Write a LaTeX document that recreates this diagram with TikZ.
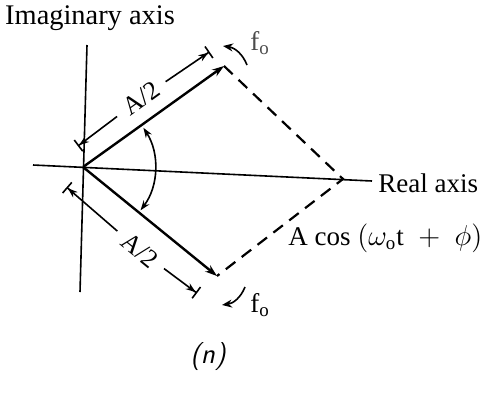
\documentclass[tikz,border=0pt]{standalone}
\usepackage{fontspec}
\setmainfont{Liberation Serif}
\usepackage{tikz}
\usetikzlibrary{arrows.meta}
\tikzset{
  axisline/.style={line width=0.8pt},
  phasorline/.style={line width=1.2pt,-{Stealth[length=6pt,width=4pt]}},
  sumline/.style={line width=1.1pt,dash pattern=on 6pt off 4pt},
  dimline/.style={line width=0.8pt,-{Stealth[length=5pt,width=3.5pt]Bar[width=7pt]}},
  anglearc/.style={line width=0.8pt,{Stealth[length=5pt,width=3.5pt]}-{Stealth[length=5pt,width=3.5pt]}},
  spinarrow/.style={line width=0.8pt,-{Stealth[length=5pt,width=4pt]}},
  axislabel/.style={font=\fontsize{13.5}{16}\selectfont,inner sep=0pt},
  halflabel/.style={font=\fontsize{13}{15}\selectfont,inner sep=5pt}
}

\begin{document}
\begin{tikzpicture}[x=0.5pt,y=0.5pt]
  \useasboundingbox (0,0) rectangle (486,393);
  % axes
  \coordinate (O) at (83,226);
  \coordinate (imtop) at (87,348);
  \coordinate (imbot) at (80,101);
  \coordinate (releft) at (33,228);
  \coordinate (reright) at (372,212);
  \draw[axisline] (imbot) -- (imtop);
  \draw[axisline] (releft) -- (reright);
  \node[axislabel,font=\fontsize{14.2}{16}\selectfont] (imlabel) at (90,375) {Imaginary axis};
  \node[axislabel,anchor=west] (relabel) at (378,210) {Real axis};
  % phasors and their sum
  \coordinate (U) at (224,327);
  \coordinate (L) at (217,117);
  \coordinate (R) at (343,214);
  \draw[phasorline] (O) -- (U);
  \draw[phasorline] (O) -- (L);
  \draw[sumline] (U) -- (R) -- (L);
  \node[axislabel,anchor=west] (sumlabel) at (288,155)
    {A cos $(\omega_{\mathrm{o}}\mathrm{t}\;+\;\phi)$};
  \draw[anglearc] (O) ++(33:72) arc[start angle=33,end angle=-37,radius=72];
  % A/2 dimensions
  \begin{scope}[shift={(O)},rotate=35.6]
    \coordinate (ua) at (8,20);
    \coordinate (ub) at (170,20);
    \node[halflabel,rotate=35.6] (uhalf) at (87,22) {A/2};
  \end{scope}
  \draw[dimline] (uhalf) -- (ua);
  \draw[dimline] (uhalf) -- (ub);
  \begin{scope}[shift={(O)},rotate=-39.1]
    \coordinate (la) at (0,-26);
    \coordinate (lb) at (168,-26);
    \node[halflabel,rotate=-39.1] (lhalf) at (97,-29) {A/2};
  \end{scope}
  \draw[dimline] (lhalf) -- (la);
  \draw[dimline] (lhalf) -- (lb);
  % rotation senses
  \coordinate (spinu1) at (247,328);
  \coordinate (spinu2) at (223,347);
  \coordinate (spinl1) at (245,106);
  \coordinate (spinl2) at (222,88);
  \draw[spinarrow] (spinu1) to[bend right=30] (spinu2);
  \draw[spinarrow] (spinl1) to[bend left=30] (spinl2);
  \node[axislabel,anchor=west,text=black!70] (fhi) at (250,350) {f\textsubscript{o}};
  \node[axislabel,anchor=west] (flo) at (250,88) {f\textsubscript{o}};
  \node[axislabel,font=\fontsize{14}{16}\sffamily\itshape] (cap) at (208,36) {(n)};
\end{tikzpicture}
\end{document}
